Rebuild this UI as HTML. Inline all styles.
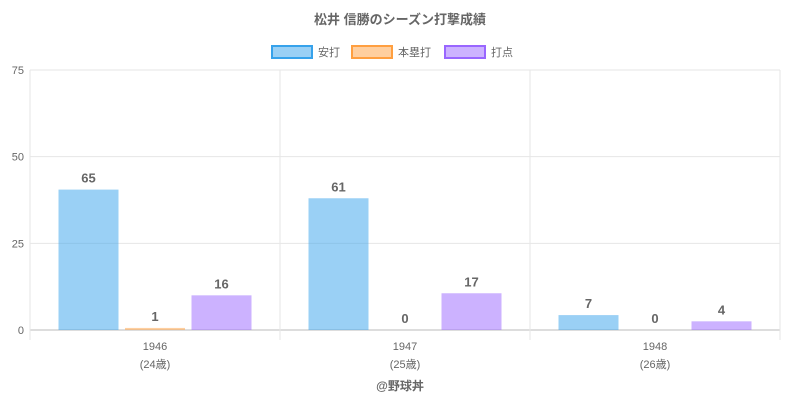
<!DOCTYPE html>
<html><head><meta charset="utf-8">
<style>
body{margin:0;background:#fff;font-family:"Liberation Sans","Noto Sans CJK JP",sans-serif;}
svg text{font-family:"Liberation Sans","Noto Sans CJK JP",sans-serif;}
</style></head>
<body>
<svg id="chart" width="800" height="400">
<text x="400" y="24" text-anchor="middle" font-size="13" font-weight="bold" fill="#666">松井 信勝のシーズン打撃成績</text>
<g id="legend"></g>
<g id="grid"></g>
<g id="bars"></g>
<text x="400" y="390" text-anchor="middle" font-size="12" font-weight="bold" fill="#666">@野球丼</text>
</svg>
<script>
const categories=["1946","1947","1948"];
const ages=["(24歳)","(25歳)","(26歳)"];
const seriesNames=["安打","本塁打","打点"];
const hits=[40.5,38,4.3];
const homeRuns=[0.6,0,0];
const rbis=[10,10.6,2.5];
const hitsLabels=["65","61","7"];
const hrLabels=["1","0","0"];
const rbiLabels=["16","17","4"];
const yTicks=[0,25,50,75];

const NS="http://www.w3.org/2000/svg";
const svg=document.getElementById('chart');
const L=30,R=780,T=70,B=330,yMax=75;
const y=v=>B-(v/yMax)*(B-T);
const bw=(R-L)/categories.length;
const x=i=>L+bw*i;
function mk(tag,attrs,parent,txt){const e=document.createElementNS(NS,tag);for(const k in attrs)e.setAttribute(k,attrs[k]);if(txt!==undefined)e.textContent=txt;parent.appendChild(e);return e;}
const grid=document.getElementById('grid');
yTicks.forEach(t=>{
 const l=mk('line',{x1:L,x2:R,y1:y(t),y2:y(t),stroke:t===0?'#bbb':'#e6e6e6'},grid);
 
 
 const tx=mk('text',{x:L-6,y:y(t)+4,'text-anchor':'end','font-size':11,fill:'#666'},grid,String(t));
 
 
});
for(let i=0;i<=categories.length;i++){
 const l=mk('line',{x1:x(i),x2:x(i),y1:T,y2:B+10,stroke:'#e6e6e6'},grid);
 
 
}
categories.forEach((c,i)=>{
 const t1=mk('text',{x:x(i)+bw/2,y:350,'text-anchor':'middle','font-size':11,fill:'#666'},grid,c);
 
 
 const t2=mk('text',{x:x(i)+bw/2,y:368,'text-anchor':'middle','font-size':11,fill:'#666'},grid,ages[i]);
 
 
});
const series=[
 {vals:hits,labels:hitsLabels,fill:'rgba(54,162,235,0.5)',stroke:'rgba(54,162,235,1)'},
 {vals:homeRuns,labels:hrLabels,fill:'rgba(255,159,64,0.5)',stroke:'rgba(255,159,64,1)'},
 {vals:rbis,labels:rbiLabels,fill:'rgba(153,102,255,0.5)',stroke:'rgba(153,102,255,1)'}
];
const bars=document.getElementById('bars');
const barW=60,step=66.5;
series.forEach((s,si)=>{
 s.vals.forEach((v,i)=>{
  const bx=x(i)+bw/2-barW/2+(si-1)*step;
  const r=mk('rect',{x:bx,y:y(v),width:barW,height:B-y(v),fill:s.fill},bars);
  
  
  const t=mk('text',{x:bx+barW/2,y:y(v)-7,'text-anchor':'middle','font-size':13,'font-weight':'bold',fill:'#666'},bars,s.labels[i]);
  
  
 });
});
const leg=document.getElementById('legend');
const lx=[272,352,445];
series.forEach((s,si)=>{
 const r=mk('rect',{x:lx[si],y:46,width:40,height:12,fill:s.fill,stroke:s.stroke,'stroke-width':2},leg);
 
 
 const t=mk('text',{x:lx[si]+46,y:56,'font-size':11,fill:'#666'},leg,seriesNames[si]);
 
 
});
</script>
</body></html>
